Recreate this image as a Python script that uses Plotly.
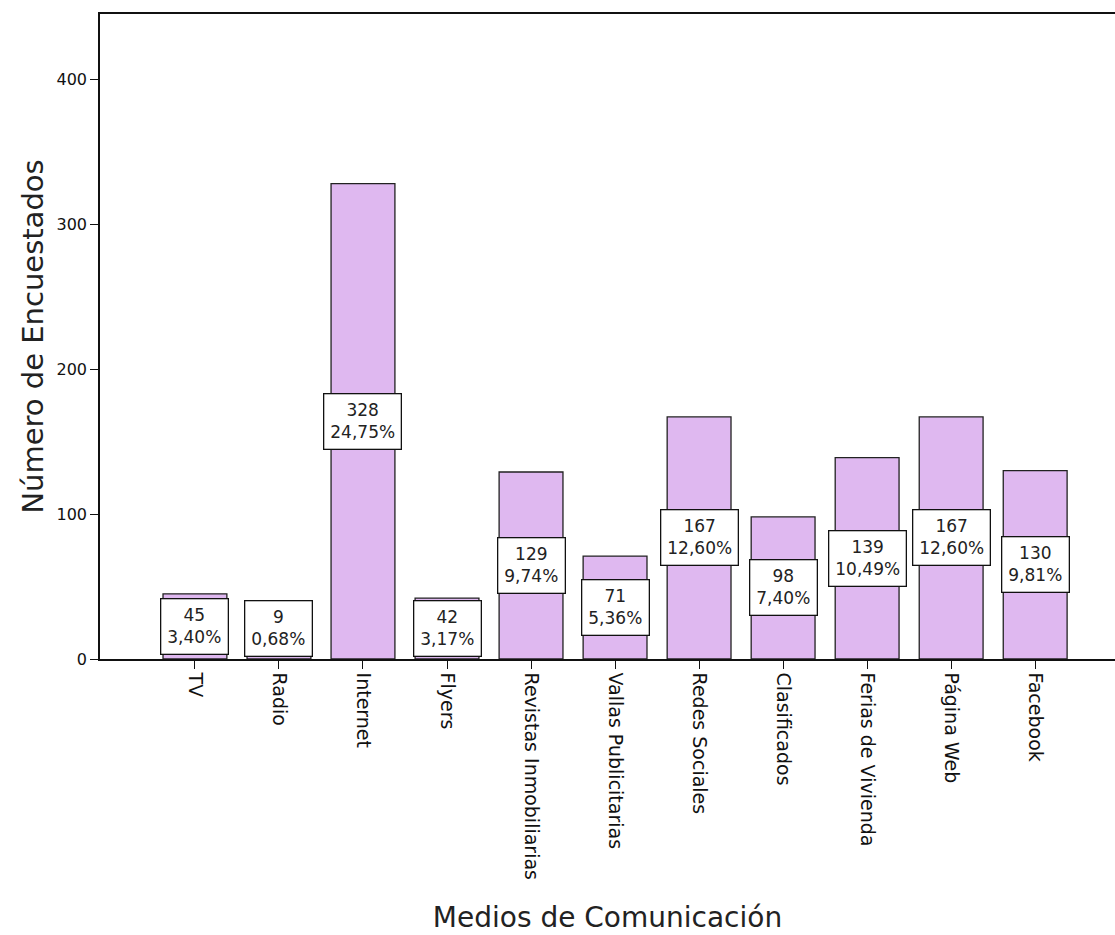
import plotly.graph_objects as go

categories = ["TV", "Radio", "Internet", "Flyers", "Revistas Inmobiliarias",
              "Vallas Publicitarias", "Redes Sociales", "Clasificados",
              "Ferias de Vivienda", "Página Web", "Facebook"]
counts = [45, 9, 328, 42, 129, 71, 167, 98, 139, 167, 130]
percents = ["3,40%", "0,68%", "24,75%", "3,17%", "9,74%", "5,36%",
            "12,60%", "7,40%", "10,49%", "12,60%", "9,81%"]
y_ticks = [0, 100, 200, 300, 400]

font_title = "'DejaVu Sans', sans-serif"
font_lbl = "'DejaVu Sans', sans-serif"

fig = go.Figure()
fig.add_trace(go.Bar(
    x=list(range(len(categories))), y=counts,
    width=0.76,
    marker=dict(color="#DFB8F0", line=dict(color="#222222", width=1.3)),
    hoverinfo="skip",
))

for i, (c, p) in enumerate(zip(counts, percents)):
    fig.add_annotation(
        x=i, y=max(c / 2, 21), xref="x", yref="y",
        text=f"{c}<br>{p}", showarrow=False,
        font=dict(family=font_lbl, size=17, color="#222222"),
        bgcolor="white", bordercolor="#111111", borderwidth=1.3, borderpad=6,
        align="center",
    )

fig.update_layout(
    width=1115, height=935,
    margin=dict(l=100, r=0, t=14, b=276),
    paper_bgcolor="white", plot_bgcolor="white",
    showlegend=False,
    font=dict(family=font_title, color="#111111"),
)
fig.update_xaxes(
    range=[-1.13, 10.95], tickvals=list(range(len(categories))), ticktext=categories,
    tickangle=90, ticks="outside", ticklen=8, tickcolor="#111111",
    showline=True, linecolor="#111111", linewidth=1.5, mirror=True,
    showgrid=False, zeroline=False,
    tickfont=dict(family=font_lbl, size=19, color="#111111"),
    title=dict(text="Medios de Comunicación", font=dict(family=font_title, size=28, color="#222222"), standoff=28),
)
fig.update_yaxes(
    range=[0, 445], tickvals=y_ticks, ticks="outside", ticklen=8, tickcolor="#111111",
    showline=True, linecolor="#111111", linewidth=1.5,
    showgrid=False, zeroline=False,
    tickfont=dict(family=font_lbl, size=16, color="#111111"),
    title=dict(text="Número de Encuestados", font=dict(family=font_title, size=29, color="#222222"), standoff=4),
)

fig.write_html("out.html")
